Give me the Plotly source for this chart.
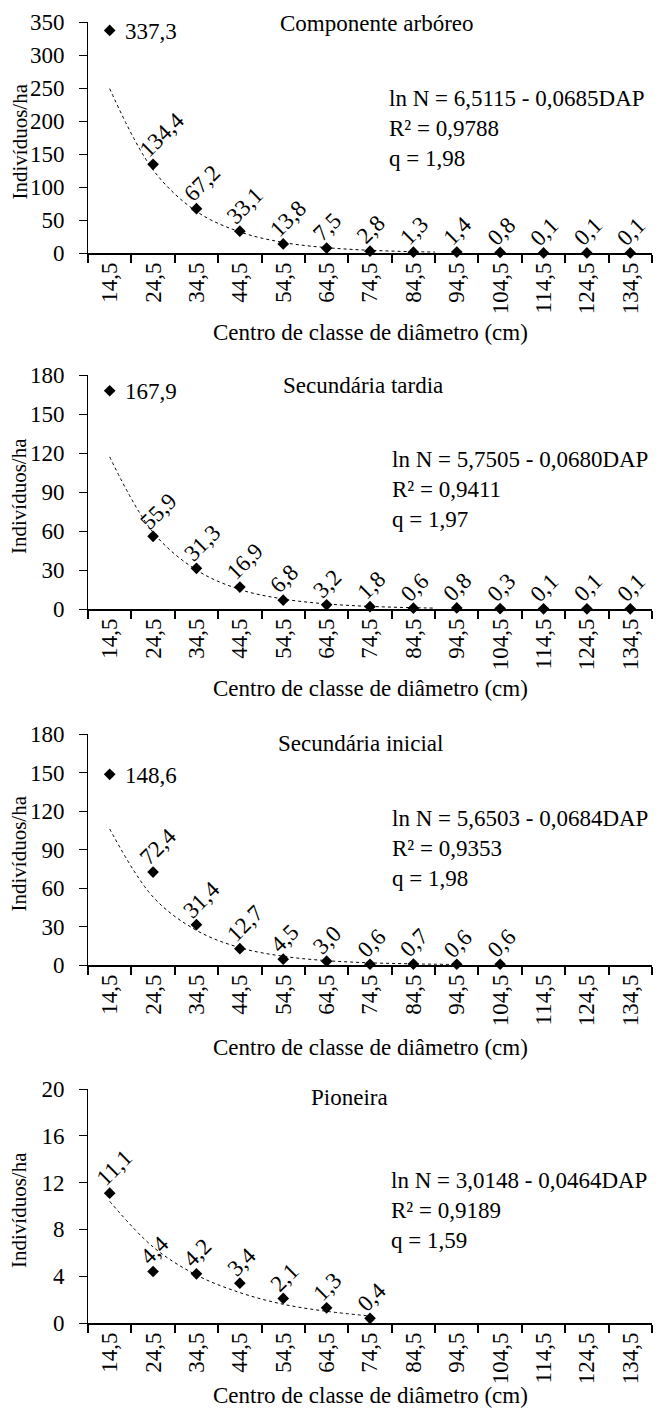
import plotly.graph_objects as go

W, H = 663, 1411
FONT = "Liberation Serif"
FS = 23

# ---------------- data ----------------
classes = [14.5, 24.5, 34.5, 44.5, 54.5, 64.5, 74.5, 84.5, 94.5, 104.5, 114.5, 124.5, 134.5]
class_labels = ["14,5", "24,5", "34,5", "44,5", "54,5", "64,5", "74,5", "84,5", "94,5",
                "104,5", "114,5", "124,5", "134,5"]

titles = ["Componente arbóreo", "Secundária tardia", "Secundária inicial", "Pioneira"]

arboreo = [337.3, 134.4, 67.2, 33.1, 13.8, 7.5, 2.8, 1.3, 1.4, 0.8, 0.1, 0.1, 0.1]
sec_tardia = [167.9, 55.9, 31.3, 16.9, 6.8, 3.2, 1.8, 0.6, 0.8, 0.3, 0.1, 0.1, 0.1]
sec_inicial = [148.6, 72.4, 31.4, 12.7, 4.5, 3.0, 0.6, 0.7, 0.6, 0.6]
pioneira = [11.1, 4.4, 4.2, 3.4, 2.1, 1.3, 0.4]

# dashed trend lines
trend_x_arboreo = [14.5, 24.5, 34.5, 44.5, 54.5, 64.5, 74.5, 84.5, 89.5]
trend_y_arboreo = [249, 126, 63, 32, 16, 8.1, 4.1, 2.0, 1.5]
trend_x_tardia = [14.5, 24.5, 34.5, 44.5, 54.5, 64.5, 74.5, 84.5, 89.5]
trend_y_tardia = [117, 59, 30, 15, 7.7, 3.9, 2.0, 1.0, 0.7]
trend_x_inicial = [14.5, 24.5, 34.5, 44.5, 54.5, 64.5, 74.5, 84.5, 94.5]
trend_y_inicial = [106, 53, 27, 13.5, 6.8, 3.4, 1.7, 0.9, 0.4]
trend_x_pioneira = [14.5, 24.5, 34.5, 44.5, 54.5, 64.5, 74.5]
trend_y_pioneira = [10.4, 6.5, 4.1, 2.6, 1.6, 1.0, 0.6]

equations = [
    "ln N = 6,5115 - 0,0685DAP<br>R² = 0,9788<br>q = 1,98",
    "ln N = 5,7505 - 0,0680DAP<br>R² = 0,9411<br>q = 1,97",
    "ln N = 5,6503 - 0,0684DAP<br>R² = 0,9353<br>q = 1,98",
    "ln N = 3,0148 - 0,0464DAP<br>R² = 0,9189<br>q = 1,59",
]

y_max = [350, 180, 180, 20]
y_dtick = [50, 30, 30, 4]

series = [arboreo, sec_tardia, sec_inicial, pioneira]
trends = [(trend_x_arboreo, trend_y_arboreo), (trend_x_tardia, trend_y_tardia),
          (trend_x_inicial, trend_y_inicial), (trend_x_pioneira, trend_y_pioneira)]
horizontal_first = [True, True, True, False]

# ---------------- layout geometry (page pixels) ----------------
X0, X1 = 88, 652
panel_px = [(22, 253), (375, 609), (734, 965), (1089, 1323)]
title_px = [(377, 23), (363, 385), (361, 743), (349, 1097)]
eq_px = [(387, 84), (390, 445), (390, 804), (389, 1166)]
xtitle_py = [333, 688, 1047, 1395]


def yp(pix):
    return 1 - pix / H


def xp(pix):
    return pix / W


def text_len(s):
    w = 0
    for ch in s:
        w += 0.25 if ch in ",." else 0.5
    return w * FS


fig = go.Figure()
annotations = []
boundaries = [c - 5 for c in classes] + [classes[-1] + 5]
tfont = dict(family=FONT, size=FS, color="black")

for i in range(4):
    ax = "" if i == 0 else str(i + 1)
    lab_ax = str(i + 5)
    xref, yref = "x" + ax, "y" + ax
    vals = series[i]
    xs = classes[:len(vals)]
    tx, ty = trends[i]
    fig.add_trace(go.Scatter(x=tx, y=ty, mode="lines",
                             line=dict(color="black", width=1, dash="3px,3px", shape="spline"),
                             xaxis=xref, yaxis=yref, showlegend=False, hoverinfo="skip"))
    fig.add_trace(go.Scatter(x=xs, y=vals, mode="markers",
                             marker=dict(symbol="diamond", size=9, color="black"),
                             xaxis=xref, yaxis=yref, showlegend=False, cliponaxis=False))
    # invisible trace so the label axis is drawn
    fig.add_trace(go.Scatter(x=classes, y=[0] * len(classes), mode="markers",
                             marker=dict(opacity=0, size=1), xaxis="x" + lab_ax, yaxis=yref,
                             showlegend=False, hoverinfo="skip"))

    top, bot = panel_px[i]
    rng = [classes[0] - 5, classes[-1] + 5]
    # main x axis: line + tick marks between classes
    fig.layout["xaxis" + ax] = dict(
        domain=[xp(X0), xp(X1)], anchor=yref, range=rng, automargin=False,
        tickmode="array", tickvals=boundaries, ticktext=[""] * len(boundaries),
        ticks="outside", ticklen=8, tickcolor="black", tickwidth=1.5, showticklabels=False,
        showline=True, linecolor="black", linewidth=2, showgrid=False, zeroline=False,
    )
    # overlaid x axis carrying the class labels
    fig.layout["xaxis" + lab_ax] = dict(
        overlaying=xref, anchor=yref, side="bottom", range=rng, automargin=False,
        tickmode="array", tickvals=classes, ticktext=class_labels, tickangle=-90, ticks="",
        ticklabelstandoff=4, showline=False, showgrid=False, zeroline=False,
        showticklabels=True, tickfont=tfont,
    )
    fig.layout["yaxis" + ax] = dict(
        domain=[yp(bot), yp(top)], anchor=xref, range=[0, y_max[i]], dtick=y_dtick[i], tick0=0,
        automargin=False,
        ticks="outside", ticklen=8, tickcolor="black", tickwidth=1, ticklabelstandoff=10,
        showline=True, linecolor="black", linewidth=1, showgrid=False, zeroline=False,
        tickfont=tfont,
    )

    # data labels
    for j, (x, v) in enumerate(zip(xs, vals)):
        s = f"{v:.1f}".replace(".", ",")
        if j == 0 and horizontal_first[i]:
            annotations.append(dict(x=x, y=v, xref=xref, yref=yref, text=s, showarrow=False,
                                    xanchor="left", yanchor="middle", xshift=13, yshift=-1,
                                    font=tfont))
        else:
            L = text_len(s)
            annotations.append(dict(x=x, y=v, xref=xref, yref=yref, text=s, showarrow=False,
                                    xanchor="center", yanchor="middle", textangle=-45,
                                    xshift=-9 + 0.354 * L, yshift=11 + 0.354 * L,
                                    font=tfont))

    # panel title
    annotations.append(dict(x=xp(title_px[i][0]), y=yp(title_px[i][1]), xref="paper", yref="paper",
                            text=titles[i], showarrow=False, xanchor="center", yanchor="middle",
                            font=tfont))
    # equation
    annotations.append(dict(x=xp(eq_px[i][0]), y=yp(eq_px[i][1]), xref="paper", yref="paper",
                            text=equations[i], showarrow=False, xanchor="left", yanchor="top", align="left",
                            font=tfont))
    # y title
    annotations.append(dict(x=xp(19), y=yp((top + bot) / 2 + 4), xref="paper", yref="paper",
                            text="Indivíduos/ha", showarrow=False, textangle=-90,
                            xanchor="center", yanchor="middle",
                            font=dict(family=FONT, size=21, color="black")))
    # x title
    annotations.append(dict(x=xp((X0 + X1) / 2), y=yp(xtitle_py[i]), xref="paper", yref="paper",
                            text="Centro de classe de diâmetro (cm)", showarrow=False,
                            xanchor="center", yanchor="middle", font=tfont))

fig.update_layout(
    width=W, height=H, margin=dict(l=0, r=0, t=0, b=0, pad=0, autoexpand=False),
    paper_bgcolor="white", plot_bgcolor="white",
    annotations=annotations, showlegend=False,
    font=tfont,
)

fig.write_html("out.html", config={"displayModeBar": False},
               post_script="document.body.style.margin='0px';document.body.style.overflow='hidden';")
